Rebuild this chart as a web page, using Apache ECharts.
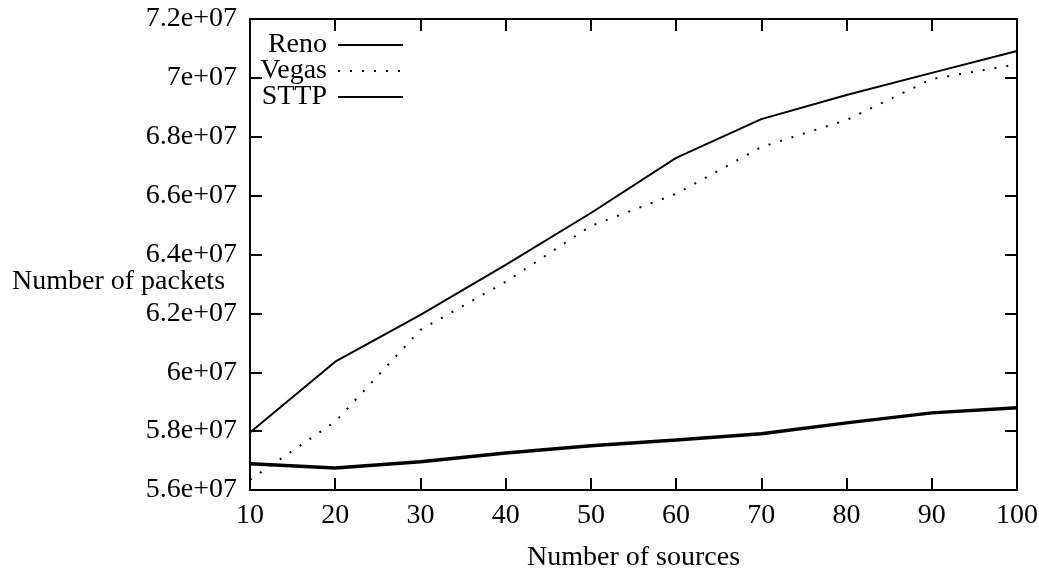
<!DOCTYPE html>
<html>
<head>
<meta charset="utf-8">
<script src="https://cdn.jsdelivr.net/npm/echarts@6/dist/echarts.min.js"></script>
<style>
html,body{margin:0;padding:0;background:#fff;}
#c{width:1039px;height:573px;}
</style>
</head>
<body>
<div id="c"></div>
<script>
var sources = [10, 20, 30, 40, 50, 60, 70, 80, 90, 100];
var reno  = [5.795e7, 6.036e7, 6.195e7, 6.365e7, 6.541e7, 6.728e7, 6.860e7, 6.942e7, 7.017e7, 7.091e7];
var vegas = [5.635e7, 5.832e7, 6.144e7, 6.307e7, 6.497e7, 6.606e7, 6.765e7, 6.857e7, 6.996e7, 7.046e7];
var sttp  = [5.689e7, 5.675e7, 5.696e7, 5.726e7, 5.750e7, 5.770e7, 5.791e7, 5.828e7, 5.862e7, 5.879e7];
var yTickValues = [5.6e7, 5.8e7, 6.0e7, 6.2e7, 6.4e7, 6.6e7, 6.8e7, 7.0e7, 7.2e7];
var yTickLabels = ['5.6e+07', '5.8e+07', '6e+07', '6.2e+07', '6.4e+07', '6.6e+07', '6.8e+07', '7e+07', '7.2e+07'];
var xTickLabels = ['10', '20', '30', '40', '50', '60', '70', '80', '90', '100'];

function pairs(vals){ return sources.map(function(x,i){ return [x, vals[i]]; }); }
function yLabel(v){
  for (var i = 0; i < yTickValues.length; i++) {
    if (Math.abs(yTickValues[i] - v) < 1) return yTickLabels[i];
  }
  return '';
}
function xLabel(v){
  var i = sources.indexOf(Math.round(v));
  return i >= 0 ? xTickLabels[i] : '';
}

var FONT = 'Liberation Serif';
var FS = 28;
var axisLine = {show: true, lineStyle: {color: '#000', width: 2}};
var tick = {show: true, inside: true, length: 12, lineStyle: {color: '#000', width: 2}};

var chart = echarts.init(document.getElementById('c'), null, {renderer: 'canvas'});
function legendFor(name, top){
  return {
    data: [name],
    orient: 'vertical',
    right: 635,
    top: top,
    align: 'right',
    itemWidth: 65,
    itemHeight: 14,
    padding: 0,
    selectedMode: false,
    itemStyle: {opacity: 0, color: 'transparent', borderColor: 'transparent', borderWidth: 0},
    textStyle: {fontFamily: FONT, fontSize: FS, color: '#000', padding: [0, 6, 0, 0]}
  };
}
chart.setOption({
  animation: false,
  backgroundColor: '#fff',
  grid: {left: 250, right: 22, top: 19, bottom: 83, show: false, containLabel: false, outerBoundsMode: 'none'},
  legend: [legendFor('Reno', 31), legendFor('Vegas', 57), legendFor('STTP', 83)],
  xAxis: [{
    type: 'value', min: 10, max: 100, interval: 10, position: 'bottom',
    axisLine: axisLine, axisTick: tick, splitLine: {show: false},
    axisLabel: {fontFamily: FONT, fontSize: FS, color: '#000', margin: 12, formatter: xLabel},
    name: 'Number of sources', nameLocation: 'middle', nameGap: 54,
    nameTextStyle: {fontFamily: FONT, fontSize: FS, color: '#000'}
  }, {
    type: 'value', min: 10, max: 100, interval: 10, position: 'top',
    axisLine: axisLine, axisTick: tick, splitLine: {show: false}, axisLabel: {show: false}
  }],
  yAxis: [{
    type: 'value', min: 5.6e7, max: 7.2e7, interval: 2e6, position: 'left',
    axisLine: axisLine, axisTick: tick, splitLine: {show: false},
    axisLabel: {fontFamily: FONT, fontSize: FS, color: '#000', margin: 13, formatter: yLabel}
  }, {
    type: 'value', min: 5.6e7, max: 7.2e7, interval: 2e6, position: 'right',
    axisLine: axisLine, axisTick: tick, splitLine: {show: false}, axisLabel: {show: false}
  }],
  graphic: [{
    type: 'text', left: 12, top: 268,
    style: {text: 'Number of packets', fontFamily: FONT, fontSize: FS, fill: '#000'}
  }],
  series: [{
    name: 'Reno', type: 'line', data: pairs(reno), symbol: 'none', color: '#000',
    lineStyle: {color: '#000', width: 2, type: 'solid'}
  }, {
    name: 'Vegas', type: 'line', data: pairs(vegas), symbol: 'none', color: '#000',
    lineStyle: {color: '#000', width: 2, type: [2, 10]}
  }, {
    name: 'STTP', type: 'line', data: pairs(sttp), symbol: 'none', color: '#000',
    lineStyle: {color: '#000', width: 3.5, type: 'solid'}
  }]
});
</script>
</body>
</html>
